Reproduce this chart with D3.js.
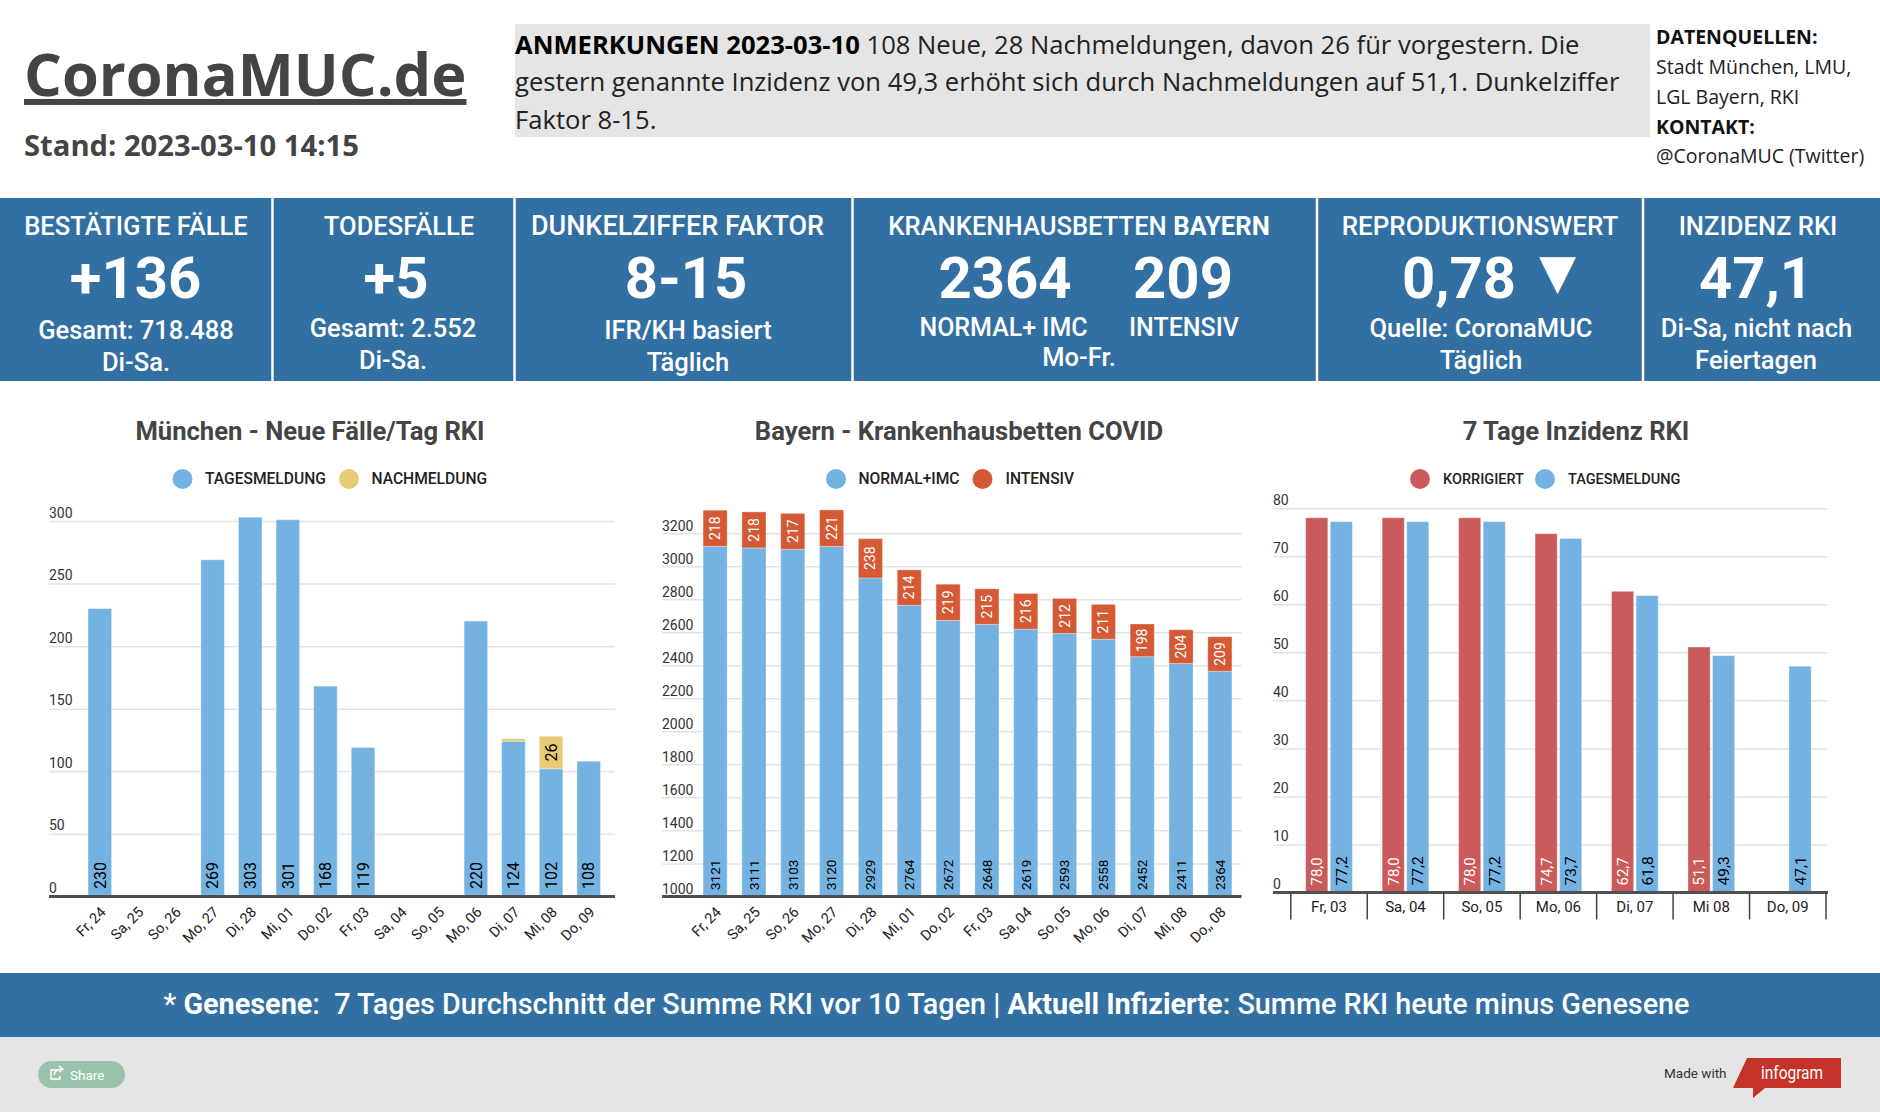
<!DOCTYPE html>
<html>
<head>
<meta charset="utf-8">
<script src="https://cdn.jsdelivr.net/npm/d3@7"></script>
<style>
  html, body { margin: 0; background: #fff; }
  svg { display: block; }
  text { font-family: Roboto, sans-serif; white-space: pre; }
</style>
</head>
<body>
<svg id="chart" width="1880" height="1112"></svg>
<script>
// Daten
const tageMuc = ["Fr, 24","Sa, 25","So, 26","Mo, 27","Di, 28","Mi, 01","Do, 02","Fr, 03","Sa, 04","So, 05","Mo, 06","Di, 07","Mi, 08","Do, 09"];
const tagesmeldung = [230,null,null,269,303,301,168,119,null,null,220,124,102,108];
const nachmeldung = [0,0,0,0,0,0,0,0,0,0,0,2,26,0];
const yTicksMuc = [0,50,100,150,200,250,300];

const tageBay = ["Fr, 24","Sa, 25","So, 26","Mo, 27","Di, 28","Mi, 01","Do, 02","Fr, 03","Sa, 04","So, 05","Mo, 06","Di, 07","Mi, 08","Do,, 08"];
const normalImc = [3121,3111,3103,3120,2929,2764,2672,2648,2619,2593,2558,2452,2411,2364];
const intensiv = [218,218,217,221,238,214,219,215,216,212,211,198,204,209];
const yTicksBay = [1000,1200,1400,1600,1800,2000,2200,2400,2600,2800,3000,3200];

const tageInz = ["Fr, 03","Sa, 04","So, 05","Mo, 06","Di, 07","Mi 08","Do, 09"];
const korrigiert = [78.0,78.0,78.0,74.7,62.7,51.1,null];
const inzTagesmeldung = [77.2,77.2,77.2,73.7,61.8,49.3,47.1];
const yTicksInz = [0,10,20,30,40,50,60,70,80];

const BLAU = "#326fa3", HELLBLAU = "#74b3e1", GELB = "#e9cb75", ORANGE = "#d55934", ROT = "#cb5b5b", GRID = "#e3e3e3", DUNKEL = "#444";
const komma = d3.format(".1f");

const svg = d3.select("#chart");

// kleine Helfer fuer Texte
function txt(x, y, s, size, weight, fill, anchor) {
  return svg.append("text").attr("x", x).attr("y", y).text(s)
    .attr("font-size", size).attr("font-weight", weight || 400)
    .attr("fill", fill || "#fff").attr("text-anchor", anchor || "middle");
}
function osTxt(x, y, s, size, weight, fill) {
  return txt(x, y, s, size, weight, fill, "start").style("font-family", '"Open Sans", sans-serif');
}

// Kopfbereich
osTxt(24, 96, "CoronaMUC.de", 59.5, 700, DUNKEL).style("text-decoration", "underline");
osTxt(24, 156, "Stand: 2023-03-10 14:15", 29.2, 700, DUNKEL);

svg.append("rect").attr("x", 515).attr("y", 24).attr("width", 1135).attr("height", 113).attr("fill", "#e5e5e5");
const n1 = osTxt(515, 54, "", 25.6, 400, "#222");
n1.append("tspan").attr("font-weight", 700).attr("fill", "#000").text("ANMERKUNGEN 2023-03-10");
n1.append("tspan").text(" 108 Neue, 28 Nachmeldungen, davon 26 für vorgestern. Die");
osTxt(515, 91, "gestern genannte Inzidenz von 49,3 erhöht sich durch Nachmeldungen auf 51,1. Dunkelziffer", 25.6, 400, "#222");
osTxt(515, 129, "Faktor 8-15.", 25.6, 400, "#222");

osTxt(1656, 44, "DATENQUELLEN:", 19.5, 700, "#111");
osTxt(1656, 74, "Stadt München, LMU,", 19.5, 400, "#222");
osTxt(1656, 104, "LGL Bayern, RKI", 19.5, 400, "#222");
osTxt(1656, 134, "KONTAKT:", 19.5, 700, "#111");
osTxt(1656, 163, "@CoronaMUC (Twitter)", 19.5, 400, "#222");

// Kennzahlen-Band
svg.append("rect").attr("x", 0).attr("y", 198).attr("width", 1880).attr("height", 183).attr("fill", BLAU);
svg.selectAll("line.sep").data([272.5, 514.5, 852.5, 1317, 1643]).join("line")
  .attr("class", "sep").attr("x1", d => d).attr("x2", d => d).attr("y1", 198).attr("y2", 381)
  .attr("stroke", "#fff").attr("stroke-width", 2.5);

const H = 25.6, G = 58, S = 25.5;
txt(136, 234.5, "BESTÄTIGTE FÄLLE", H, 500);
txt(135.5, 297.5, "+136", G, 700);
txt(136, 339, "Gesamt: 718.488", S, 500);
txt(136, 370.5, "Di-Sa.", S, 500);

txt(399, 234.5, "TODESFÄLLE", H, 500);
txt(396, 297.5, "+5", G, 700);
txt(393, 337, "Gesamt: 2.552", S, 500);
txt(393, 369, "Di-Sa.", S, 500);

txt(677.5, 235, "DUNKELZIFFER FAKTOR", 27, 500);
txt(686, 297.5, "8-15", G, 700);
txt(688, 339, "IFR/KH basiert", S, 500);
txt(688, 370.5, "Täglich", S, 500);

const kh = txt(1079, 234.5, "", H, 500);
kh.append("tspan").text("KRANKENHAUSBETTEN ");
kh.append("tspan").attr("font-weight", 700).text("BAYERN");
txt(1005, 297.5, "2364", G, 700);
txt(1183, 297.5, "209", G, 700);
txt(1003.5, 336, "NORMAL+ IMC", 25, 500);
txt(1184, 336, "INTENSIV", 25, 500);
txt(1079, 366, "Mo-Fr.", S, 500);

txt(1480, 235, "REPRODUKTIONSWERT", 26, 500);
txt(1459, 297.5, "0,78", G, 700);
txt(1557.5, 288, "▼", 48, 400).style("font-family", '"DejaVu Sans"');
txt(1481, 337, "Quelle: CoronaMUC", S, 500);
txt(1481, 369, "Täglich", S, 500);

txt(1758, 234.5, "INZIDENZ RKI", H, 500);
txt(1756, 297.5, "47,1", G, 700);
txt(1756.5, 337, "Di-Sa, nicht nach", S, 500);
txt(1756, 369, "Feiertagen", S, 500);

// gemeinsamer Rahmen der drei Diagramme
function titel(cx, s) { txt(cx, 440, s, 25.6, 700, DUNKEL); }
function legende(items, size) {
  items.forEach(it => {
    svg.append("circle").attr("cx", it.c).attr("cy", 479).attr("r", 10).attr("fill", it.color);
    txt(it.t, 484, it.label, size, 500, "#222", "start");
  });
}
function gitter(y, ticks, x0, x1, dy) {
  const g = svg.append("g").attr("transform", `translate(${x0},0)`)
    .call(d3.axisRight(y).tickValues(ticks).tickSize(x1 - x0).tickFormat(d3.format("d")));
  g.select(".domain").remove();
  g.selectAll("line").attr("stroke", GRID).attr("stroke-width", 1.5);
  g.selectAll("text").attr("x", 0).attr("dy", dy).attr("font-size", 14).attr("fill", "#333")
    .style("font-family", "Roboto, sans-serif").attr("text-anchor", "start");
}
function basis(y0, x0, x1) {
  svg.append("line").attr("x1", x0).attr("x2", x1).attr("y1", y0).attr("y2", y0)
    .attr("stroke", "#505050").attr("stroke-width", 3);
}
function xSchraeg(x, y0) {
  const g = svg.append("g").attr("transform", `translate(0,${y0})`)
    .call(d3.axisBottom(x).tickSize(0));
  g.select(".domain").remove();
  g.selectAll("text").attr("font-size", 14.5).attr("fill", "#222").attr("y", 0).attr("dy", 0)
    .style("font-family", "Roboto, sans-serif").attr("text-anchor", "end")
    .attr("transform", "translate(7,16.5) rotate(-45)");
}
function balken(data, x, w, yTop, yBot, color) {
  svg.append("g").selectAll("rect").data(data).join("rect")
    .attr("x", x).attr("width", w).attr("y", yTop)
    .attr("height", d => yBot(d) - yTop(d)).attr("fill", color)
    .attr("stroke", "#fff").attr("stroke-opacity", 0.3);
}
function wert(data, xc, yPos, fmt, color, anchor, size) {
  svg.append("g").selectAll("text").data(data).join("text")
    .attr("transform", d => `translate(${xc(d)},${yPos(d)}) rotate(-90)`)
    .attr("dy", "0.36em").attr("text-anchor", anchor).attr("font-size", size || 16)
    .attr("fill", color).text(fmt);
}

// Diagramm 1: München - Neue Fälle/Tag RKI
{
  const y0 = 896.4;
  const x = d3.scaleBand().domain(tageMuc).range([81, 607.5]).paddingInner(0.375).paddingOuter(0.1875);
  const y = d3.scaleLinear().domain([0, 300]).range([y0, 521]);
  const rows = tageMuc.map((t, i) => ({ t, v: tagesmeldung[i], n: nachmeldung[i] })).filter(d => d.v !== null);
  titel(310, "München - Neue Fälle/Tag RKI");
  legende([
    { c: 182.5, t: 205, label: "TAGESMELDUNG", color: HELLBLAU },
    { c: 349, t: 371.5, label: "NACHMELDUNG", color: GELB }
  ], 15.6);
  gitter(y, yTicksMuc, 49, 615, -4);
  balken(rows, d => x(d.t), x.bandwidth(), d => y(d.v), () => y(0), HELLBLAU);
  balken(rows.filter(d => d.n > 0), d => x(d.t), x.bandwidth(), d => y(d.v + d.n), d => y(d.v), GELB);
  basis(y0, 49, 615);
  xSchraeg(x, y0);
  const xc = d => x(d.t) + x.bandwidth() / 2;
  wert(rows, xc, () => 889, d => d.v, "#000", "start");
  wert(rows.filter(d => d.n > 5), xc, d => y(d.v + d.n / 2), d => d.n, "#000", "middle");
}

// Diagramm 2: Bayern - Krankenhausbetten COVID
{
  const y0 = 896.4;
  const x = d3.scaleBand().domain(tageBay).range([695.7, 1239.3]).paddingInner(0.38).paddingOuter(0.19);
  const y = d3.scaleLinear().domain([1000, 3200]).range([y0, 533.2]);
  const rows = tageBay.map((t, i) => ({ t, v: normalImc[i], n: intensiv[i] }));
  titel(959, "Bayern - Krankenhausbetten COVID");
  legende([
    { c: 836, t: 858.5, label: "NORMAL+IMC", color: HELLBLAU },
    { c: 982.5, t: 1005.5, label: "INTENSIV", color: ORANGE }
  ], 15.6);
  gitter(y, yTicksBay, 662, 1241.5, -3);
  balken(rows, d => x(d.t), x.bandwidth(), d => y(d.v), () => y(1000), HELLBLAU);
  balken(rows, d => x(d.t), x.bandwidth(), d => y(d.v + d.n), d => y(d.v), ORANGE);
  basis(y0, 662, 1241.5);
  xSchraeg(x, y0);
  const xc = d => x(d.t) + x.bandwidth() / 2;
  wert(rows, xc, () => 890, d => d.v, "#000", "start", 13.5);
  wert(rows, xc, d => y(d.v + d.n / 2), d => d.n, "#fff", "middle", 14);
}

// Diagramm 3: 7 Tage Inzidenz RKI
{
  const y0 = 892.5;
  const x = d3.scaleBand().domain(tageInz).range([1290.8, 1826]).paddingInner(0.39).paddingOuter(0.195);
  const xi = d3.scaleBand().domain(["k", "t"]).range([0, x.bandwidth()]).paddingInner(0.1);
  const y = d3.scaleLinear().domain([0, 80]).range([y0, 508.2]);
  const rowsK = tageInz.map((t, i) => ({ t, v: korrigiert[i] })).filter(d => d.v !== null);
  const rowsT = tageInz.map((t, i) => ({ t, v: inzTagesmeldung[i] }));
  titel(1576, "7 Tage Inzidenz RKI");
  legende([
    { c: 1420, t: 1443, label: "KORRIGIERT", color: ROT },
    { c: 1545, t: 1568, label: "TAGESMELDUNG", color: HELLBLAU }
  ], 14.5);
  gitter(y, yTicksInz, 1273, 1827, -4);
  balken(rowsK, d => x(d.t) + xi("k"), xi.bandwidth(), d => y(d.v), () => y(0), ROT);
  balken(rowsT, d => x(d.t) + xi("t"), xi.bandwidth(), d => y(d.v), () => y(0), HELLBLAU);
  basis(y0, 1273, 1828);

  const ax = svg.append("g").attr("transform", `translate(0,${y0})`).call(d3.axisBottom(x).tickSize(0));
  ax.select(".domain").remove();
  ax.selectAll("text").attr("font-size", 15).attr("fill", "#222").attr("y", 0).attr("dy", 19.5)
    .style("font-family", "Roboto, sans-serif");
  const kanten = tageInz.map(t => x(t) - x.step() * x.paddingInner() / 2);
  kanten.push(x(tageInz[tageInz.length - 1]) + x.bandwidth() + x.step() * x.paddingInner() / 2);
  svg.append("g").selectAll("line").data(kanten).join("line")
    .attr("x1", d => d).attr("x2", d => d).attr("y1", y0).attr("y2", y0 + 27)
    .attr("stroke", DUNKEL).attr("stroke-width", 1.5);

  const fmt = d => komma(d.v).replace(".", ",");
  wert(rowsK, d => x(d.t) + xi("k") + xi.bandwidth() / 2, () => 885.5, fmt, "#fff", "start", 15);
  wert(rowsT, d => x(d.t) + xi("t") + xi.bandwidth() / 2, () => 885.5, fmt, "#000", "start", 15.5);
}

// Fussband
svg.append("rect").attr("x", 0).attr("y", 973).attr("width", 1880).attr("height", 64).attr("fill", BLAU);
const fuss = txt(926.5, 1013.5, "", 28.8, 500);
fuss.append("tspan").text("* ");
fuss.append("tspan").attr("font-weight", 700).text("Genesene");
fuss.append("tspan").text(":  7 Tages Durchschnitt der Summe RKI vor 10 Tagen | ");
fuss.append("tspan").attr("font-weight", 700).text("Aktuell Infizierte");
fuss.append("tspan").text(": Summe RKI heute minus Genesene");

svg.append("rect").attr("x", 0).attr("y", 1037).attr("width", 1880).attr("height", 75).attr("fill", "#e5e5e5");
svg.append("rect").attr("x", 38).attr("y", 1061).attr("width", 87).attr("height", 27).attr("rx", 13.5).attr("fill", "#9ac3ac");
svg.append("path").attr("d", "M59 1070 h-8 v9 h9 v-3 M54 1075 c1 -4 4 -6 8 -6 M59 1066 l4 3 l-4 3")
  .attr("fill", "none").attr("stroke", "#fff").attr("stroke-width", 1.4);
txt(70, 1079.5, "Share", 13.5, 400, "#fff", "start");
txt(1664, 1078, "Made with", 13.5, 400, "#333", "start");
svg.append("path").attr("d", "M1747 1058 H1841 V1088 H1765 L1753 1098 V1088 H1733 Z").attr("fill", "#c43228");
txt(1792, 1079, "infogram", 17.5, 400, "#fff").attr("textLength", 62).attr("lengthAdjust", "spacingAndGlyphs");
</script>
</body>
</html>
